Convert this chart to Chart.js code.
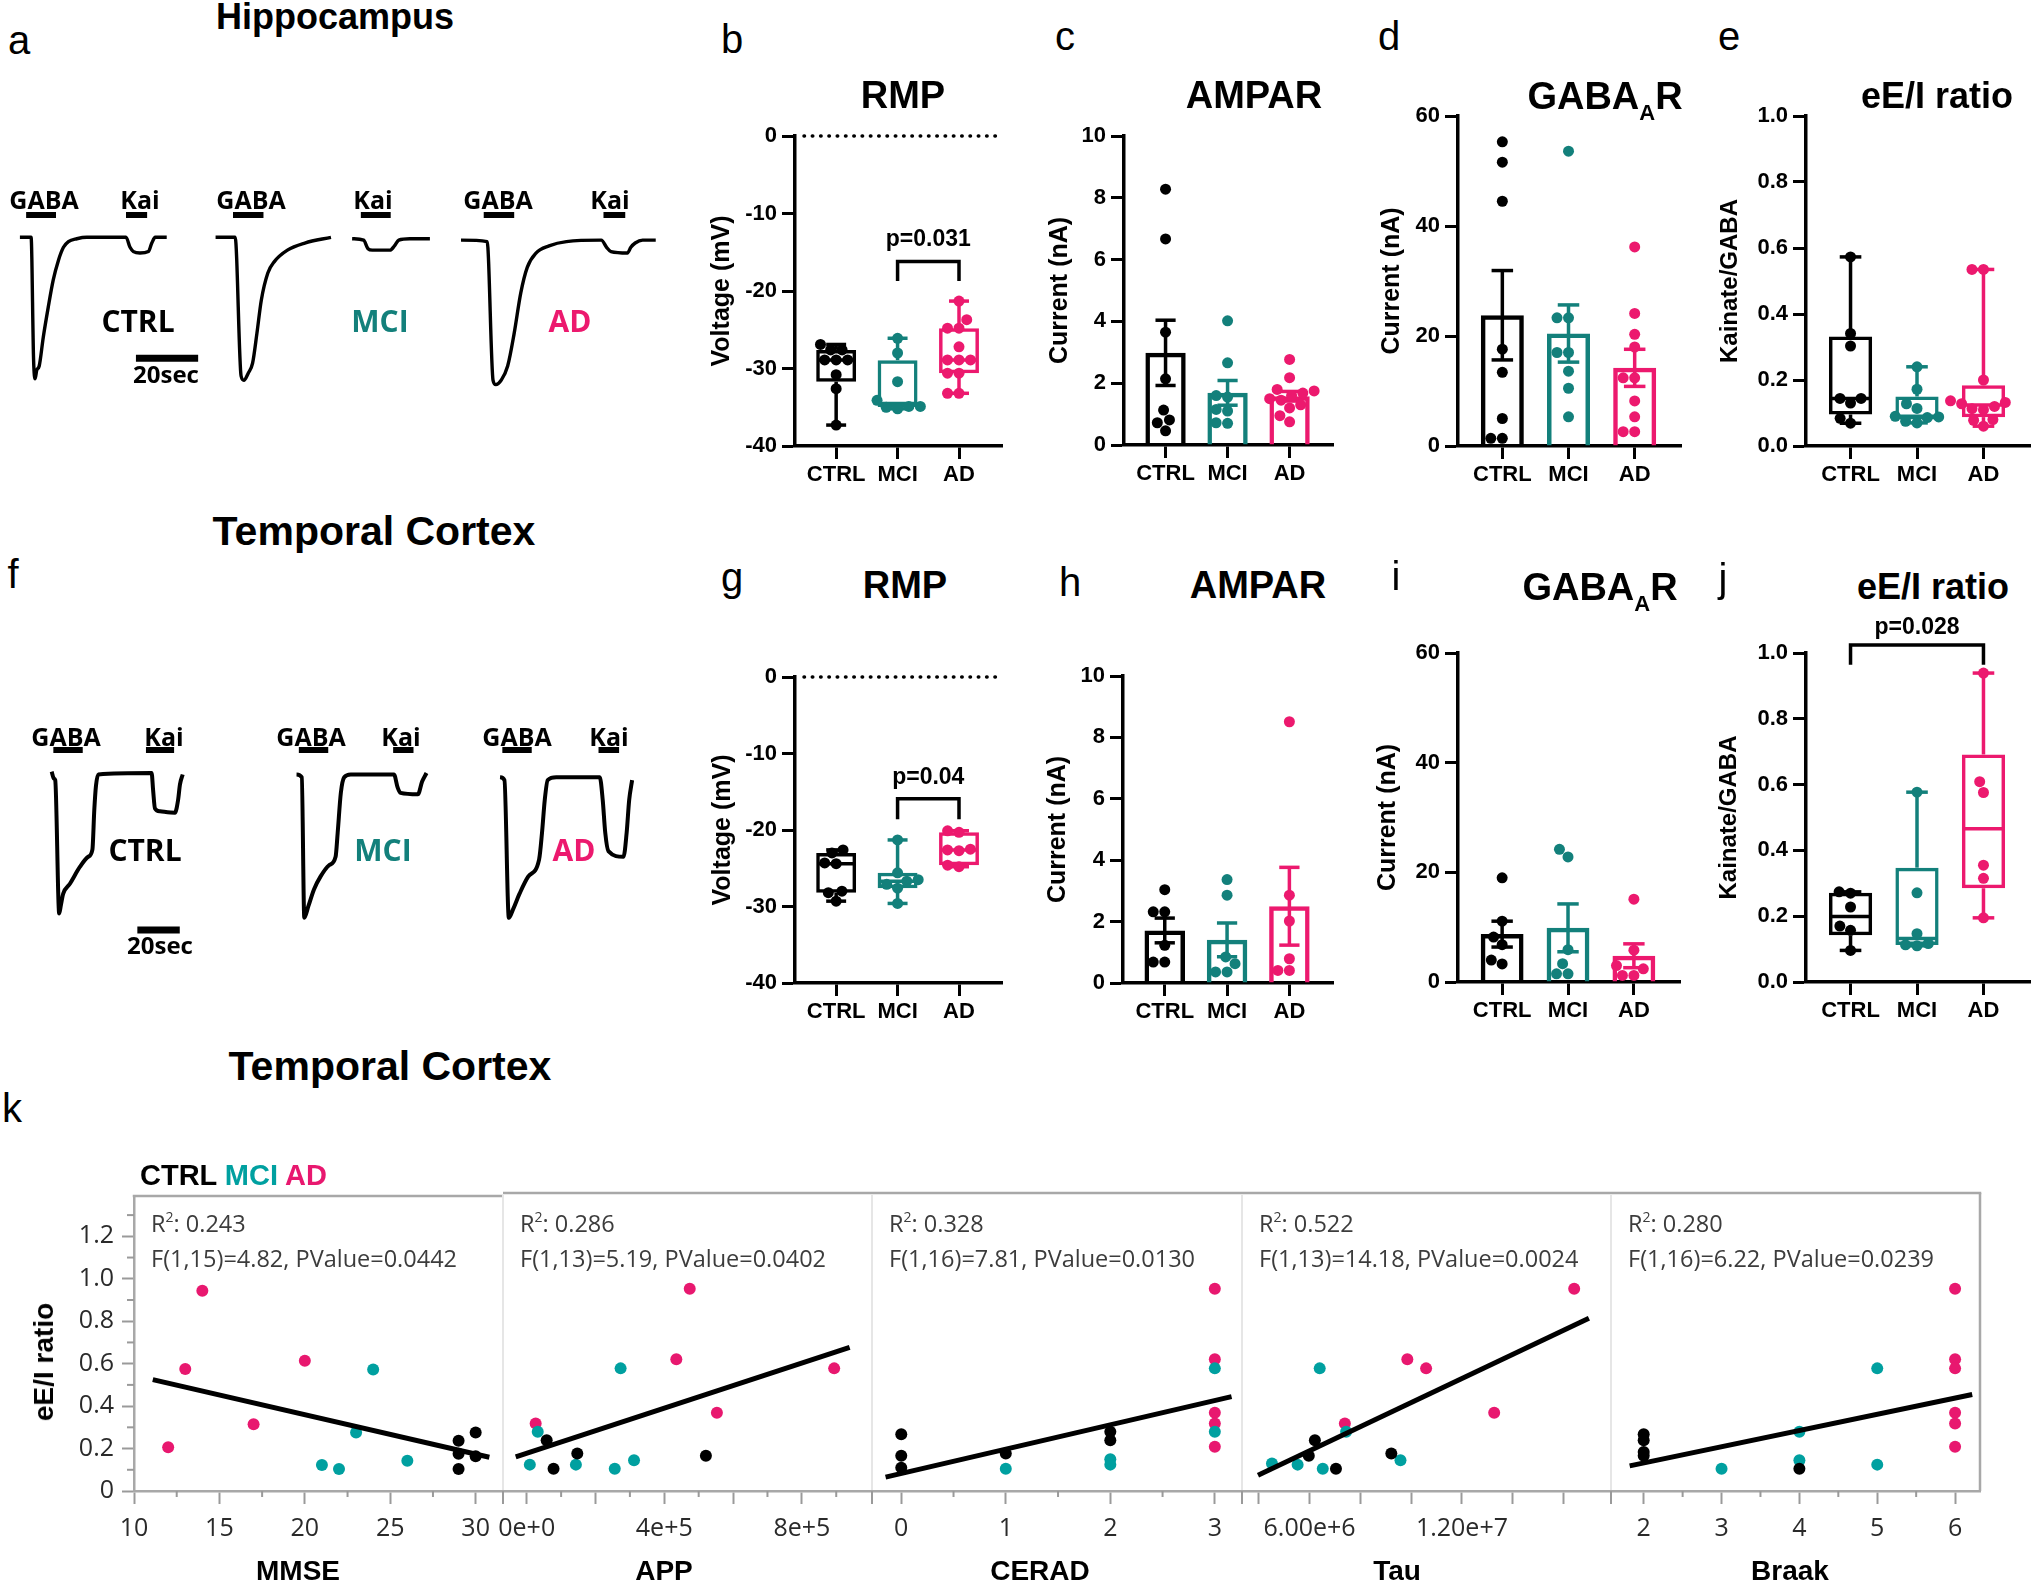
<!DOCTYPE html>
<html>
<head>
<meta charset="utf-8">
<title>Hippocampus and temporal cortex eE/I</title>
<script src="https://cdn.jsdelivr.net/npm/chart.js@4.4.1/dist/chart.umd.min.js"></script>
<style>
html, body { margin: 0; padding: 0; background: #fff; }
#page { position: relative; width: 2031px; height: 1587px; overflow: hidden; font-family: "Liberation Sans", Arial, sans-serif; color: #000; }
#page canvas { position: absolute; }
.t { position: absolute; transform: translate(-50%, -50%); white-space: nowrap; line-height: 1; }
.letter { font-size: 40px; }
.big { font-size: 38px; font-weight: bold; }
.tr { font-family: "Open Sans", sans-serif; font-weight: bold; font-size: 25px; }
.grp { font-family: "Open Sans", sans-serif; font-weight: bold; font-size: 30px; }
.stat { font-family: "Open Sans", sans-serif; font-size: 23.5px; color: #3c3c3c; transform: translate(0, -50%); }
.stat sup { font-size: 14px; position: relative; top: -2px; vertical-align: top; }
.sub { font-size: 22px; position: relative; top: 11px; }
</style>
</head>
<body>
<div id="page"></div>
<script>
// ---------- data ----------
const groups = ['CTRL', 'MCI', 'AD'];

// b: hippocampus RMP (mV)
const rmpHipCtrl = [-26.9, -27.6, -27.6, -28.9, -28.9, -28.9, -30.8, -32.6, -37.3];
const rmpHipMci = [-26.1, -28.0, -31.7, -34.1, -34.9, -34.9, -35.0, -35.2];
const rmpHipAd = [-21.3, -23.7, -24.8, -24.8, -27.2, -28.9, -28.9, -28.9, -30.6, -30.6, -33.2, -33.2];
// c: hippocampus AMPAR current (nA)
const ampaHipCtrl = [8.28, 6.67, 3.65, 2.14, 1.13, 0.81, 0.72, 0.46];
const ampaHipMci = [4.02, 2.66, 1.6, 1.55, 1.15, 1.1, 0.72, 0.7];
const ampaHipAd = [2.77, 2.18, 1.8, 1.75, 1.68, 1.6, 1.5, 1.45, 1.3, 1.2, 0.95, 0.75];
// d: hippocampus GABAAR current (nA)
const gabaHipCtrl = [55.3, 51.6, 44.5, 17.6, 13.4, 5.0, 1.4, 1.4];
const gabaHipMci = [53.6, 23.3, 23.3, 17.0, 17.0, 13.6, 10.5, 5.3];
const gabaHipAd = [36.2, 24.1, 20.3, 18.0, 12.4, 12.4, 8.2, 5.3, 2.6, 2.6];
// e: hippocampus kainate/GABA
const eiHipCtrl = [0.573, 0.341, 0.303, 0.144, 0.144, 0.13, 0.084, 0.069];
const eiHipMci = [0.24, 0.172, 0.128, 0.114, 0.09, 0.088, 0.086, 0.075, 0.07];
const eiHipAd = [0.535, 0.535, 0.2, 0.137, 0.132, 0.128, 0.12, 0.113, 0.11, 0.08, 0.078, 0.06];
// g: temporal cortex RMP (mV)
const rmpTcCtrl = [-22.6, -23.0, -24.3, -24.4, -28.0, -28.2, -29.3];
const rmpTcMci = [-21.3, -25.6, -26.5, -26.7, -27.1, -27.6, -29.6];
const rmpTcAd = [-20.1, -20.3, -22.5, -22.6, -22.7, -24.6, -24.8];
// h: temporal cortex AMPAR (nA)
const ampaTcCtrl = [3.04, 2.32, 2.32, 1.23, 0.68, 0.68];
const ampaTcMci = [3.37, 2.86, 0.85, 0.63, 0.36, 0.36];
const ampaTcAd = [8.51, 2.86, 2.02, 0.79, 0.41, 0.41];
// i: temporal cortex GABAAR (nA)
const gabaTcCtrl = [19.0, 11.1, 8.2, 6.8, 4.0, 3.3];
const gabaTcMci = [24.2, 22.8, 5.9, 3.35, 1.5, 1.5];
const gabaTcAd = [15.1, 5.8, 3.0, 2.4, 1.2, 1.2];
// j: temporal cortex kainate/GABA
const eiTcCtrl = [0.274, 0.27, 0.228, 0.17, 0.157, 0.096];
const eiTcMci = [0.577, 0.271, 0.147, 0.117, 0.113, 0.11];
const eiTcAd = [0.939, 0.609, 0.576, 0.355, 0.315, 0.195];

// a / f: example traces, [time (s), normalised current]
const traceACtrl = [[6.4,0],[10.0,0],[10.8,-0.86],[11.3,-0.99],[11.8,-0.93],[12.6,-0.9],[13.9,-0.7],[15.5,-0.49],[17.1,-0.3],[18.8,-0.16],[20.4,-0.07],[22.0,-0.03],[24.7,-0.01],[27.9,0],[40.5,0],[41.8,-0.07],[42.9,-0.1],[45.0,-0.11],[47.7,-0.1],[48.8,-0.04],[49.9,0],[53.6,0]];
const traceAMciGaba = [[69.3,0],[75.6,0],[77.5,-0.97],[78.4,-1.0],[79.8,-0.95],[81.2,-0.88],[82.6,-0.67],[84.0,-0.44],[86.1,-0.25],[88.2,-0.17],[92.4,-0.09],[98.0,-0.04],[106.4,0]];
const traceAMciKai = [[113.2,-0.01],[116.9,-0.02],[118.3,-0.08],[119.7,-0.09],[125.4,-0.09],[126.8,-0.06],[128.2,-0.02],[131.7,-0.01],[138.2,-0.01]];
const traceAAd = [[148.2,-0.02],[156.6,-0.03],[158.5,-1.0],[159.4,-1.03],[161.1,-1.0],[163.2,-0.9],[165.3,-0.67],[167.4,-0.39],[169.5,-0.21],[172.3,-0.11],[176.5,-0.06],[182.1,-0.03],[193.3,-0.02],[195.0,-0.07],[196.4,-0.1],[201.7,-0.11],[202.8,-0.07],[204.2,-0.04],[206.6,-0.02],[210.8,-0.02]];
const stimAGaba = [[8.4, 18.0], [74.9, 84.7], [155.5, 165.3]];
const stimAKai = [[40.5, 47.3], [116.0, 125.6], [194.0, 201.0]];
const scaleA = [43.7, 63.7];

const traceFCtrl = [[24.6,0.01],[25.7,-0.04],[26.3,-0.05],[28.2,-0.99],[29.0,-0.93],[30.1,-0.85],[33.3,-0.78],[38.1,-0.66],[42.0,-0.59],[44.0,-0.54],[44.9,-0.26],[45.7,-0.09],[46.8,-0.01],[72.2,0],[72.9,-0.12],[73.8,-0.25],[76.2,-0.27],[83.3,-0.28],[84.8,-0.19],[85.7,-0.08],[87.0,-0.01]];
const traceFMci = [[141.2,-0.01],[143.7,-0.03],[144.9,-1.02],[146.8,-0.94],[149.5,-0.82],[152.6,-0.73],[156.7,-0.65],[159.8,-0.59],[160.8,-0.42],[162.3,-0.14],[163.9,-0.03],[167.0,-0.01],[187.6,-0.01],[189.3,-0.1],[190.7,-0.14],[199.0,-0.15],[201.0,-0.06],[203.1,0]];
const traceFAd = [[238.1,-0.03],[240.2,-0.05],[242.3,-1.02],[244.3,-0.96],[247.4,-0.85],[251.5,-0.73],[256.7,-0.61],[258.1,-0.42],[259.4,-0.19],[260.8,-0.05],[264.9,-0.03],[285.6,-0.03],[287.0,-0.19],[288.2,-0.42],[289.7,-0.55],[296.9,-0.59],[298.4,-0.42],[299.6,-0.19],[301.0,-0.05]];
const stimFGaba = [[25.4, 39.4], [142.3, 156.3], [239.2, 253.2]];
const stimFKai = [[69.5, 82.9], [187.2, 196.9], [285.0, 294.8]];
const scaleF = [65.4, 85.6];

// k: eE/I ratio vs pathology, [x, eE/I]
const mmseCtrl = [[29,0.237],[29,0.175],[29,0.104],[30,0.276],[30,0.164]];
const mmseMci = [[21,0.123],[22,0.104],[23,0.276],[24,0.572],[26,0.143]];
const mmseAd = [[12,0.206],[13,0.575],[14,0.943],[17,0.315],[20,0.614]];
const mmseFit = [[11.1,0.525],[30.8,0.159]];
const appCtrl = [[0.58e5,0.237],[0.78e5,0.104],[1.47e5,0.175],[5.21e5,0.164]];
const appMci = [[0.09e5,0.123],[0.32e5,0.276],[1.43e5,0.123],[2.56e5,0.104],[2.73e5,0.572],[3.12e5,0.143]];
const appAd = [[0.26e5,0.315],[4.35e5,0.614],[4.74e5,0.943],[5.53e5,0.365],[8.94e5,0.572]];
const appFit = [[-0.32e5,0.159],[9.39e5,0.67]];
const ceradCtrl = [[0,0.265],[0,0.164],[0,0.109],[1,0.175],[2,0.276],[2,0.237]];
const ceradMci = [[1,0.104],[2,0.148],[2,0.123],[3,0.572],[3,0.276]];
const ceradAd = [[3,0.943],[3,0.614],[3,0.365],[3,0.315],[3,0.206]];
const ceradFit = [[-0.15,0.065],[3.16,0.44]];
const tauCtrl = [[5.97e6,0.164],[6.21e6,0.237],[7.04e6,0.104],[9.22e6,0.175]];
const tauMci = [[4.52e6,0.128],[5.53e6,0.123],[6.4e6,0.572],[6.52e6,0.104],[7.44e6,0.276],[9.58e6,0.143]];
const tauAd = [[7.39e6,0.315],[9.85e6,0.614],[10.59e6,0.572],[13.27e6,0.365],[16.42e6,0.943]];
const tauFit = [[3.97e6,0.073],[17.0e6,0.806]];
const braakCtrl = [[2,0.265],[2,0.237],[2,0.182],[2,0.164],[4,0.104]];
const braakMci = [[3,0.104],[4,0.276],[4,0.143],[5,0.572],[5,0.123]];
const braakAd = [[6,0.943],[6,0.614],[6,0.572],[6,0.365],[6,0.315],[6,0.206]];
const braakFit = [[1.82,0.117],[6.22,0.45]];

const kTitles = ['MMSE', 'APP', 'CERAD', 'Tau', 'Braak'];
const kR2 = ['0.243', '0.286', '0.328', '0.522', '0.280'];
const kF = ['F(1,15)=4.82, PValue=0.0442', 'F(1,13)=5.19, PValue=0.0402', 'F(1,16)=7.81, PValue=0.0130', 'F(1,13)=14.18, PValue=0.0024', 'F(1,16)=6.22, PValue=0.0239'];
const kYTicks = [0, 0.2, 0.4, 0.6, 0.8, 1.0, 1.2];
const kYLabels = ['0', '0.2', '0.4', '0.6', '0.8', '1.0', '1.2'];
const kYMinor = [0.1, 0.3, 0.5, 0.7, 0.9, 1.1, 1.3];
const mmseTicks = [10, 15, 20, 25, 30], mmseTickLabels = ['10', '15', '20', '25', '30'], mmseMinor = [12.5, 17.5, 22.5, 27.5];
const appTicks = [0, 2e5, 4e5, 6e5, 8e5], appTickLabels = ['0e+0', '', '4e+5', '', '8e+5'], appMinor = [1e5, 3e5, 5e5, 7e5, 9e5];
const ceradTicks = [0, 1, 2, 3], ceradTickLabels = ['0', '1', '2', '3'], ceradMinor = [0.5, 1.5, 2.5];
const tauTicks = [4e6, 6e6, 8e6, 10e6, 12e6, 14e6, 16e6], tauTickLabels = ['', '6.00e+6', '', '', '1.20e+7', '', ''], tauMinor = [];
const braakTicks = [2, 3, 4, 5, 6], braakTickLabels = ['2', '3', '4', '5', '6'], braakMinor = [2.5, 3.5, 4.5, 5.5];

// ---------- setup ----------
const FONT = '"Liberation Sans", Arial, sans-serif';
const SANS2 = '"Open Sans", "Noto Sans", sans-serif';
Chart.defaults.font.family = FONT;
Chart.defaults.color = '#000';

const gpColors = ['#000000', '#13807b', '#ec196e'];
const K_CTRL = '#000000', K_MCI = '#00a0a0', K_AD = '#e8186f';
const K_FRAME = '#a8a8a8', K_TICK = '#9a9a9a', K_TEXT = '#2a2a2a';
const X_MIN = -0.67, X_MAX = 2.7;

const page = document.getElementById('page');

function makeCanvas(left, top, w, h) {
  const c = document.createElement('canvas');
  c.width = w; c.height = h;
  c.style.left = left + 'px'; c.style.top = top + 'px';
  c.style.width = w + 'px'; c.style.height = h + 'px';
  page.appendChild(c);
  return c;
}

function txt(html, x, y, cls, style) {
  const d = document.createElement('div');
  d.className = 't ' + (cls || '');
  d.innerHTML = html;
  d.style.left = x + 'px';
  d.style.top = y + 'px';
  Object.assign(d.style, style || {});
  page.appendChild(d);
  return d;
}

function mean(a) { return a.reduce((s, v) => s + v, 0) / a.length; }
function sem(a) {
  const m = mean(a);
  const sd = Math.sqrt(a.reduce((s, v) => s + (v - m) * (v - m), 0) / (a.length - 1));
  return sd / Math.sqrt(a.length);
}
function quantile(sorted, p) {
  const n = sorted.length;
  let pos = (n + 1) * p;
  pos = Math.min(Math.max(pos, 1), n);
  const lo = Math.floor(pos), frac = pos - lo;
  if (lo >= n) return sorted[n - 1];
  return sorted[lo - 1] + frac * (sorted[lo] - sorted[lo - 1]);
}
function boxStats(vals) {
  const s = vals.slice().sort((a, b) => a - b);
  return {min: s[0], q1: quantile(s, 0.25), med: quantile(s, 0.5), q3: quantile(s, 0.75), max: s[s.length - 1]};
}

// beeswarm: horizontal offsets (in category units) so dots don't overlap
function swarm(values, pxPerY, diam, pxPerX) {
  const order = values.map((v, i) => i).sort((a, b) => values[a] - values[b]);
  const placed = [];
  const off = new Array(values.length).fill(0);
  order.forEach(i => {
    const py = values[i] * pxPerY;
    const blocks = [];
    placed.forEach(p => {
      const dy = Math.abs(p.y - py);
      if (dy < diam) {
        const dx = Math.sqrt(diam * diam - dy * dy);
        blocks.push([p.x - dx, p.x + dx]);
      }
    });
    const cands = [0];
    blocks.forEach(b => cands.push(b[0], b[1]));
    cands.sort((a, b) => (Math.abs(a) - Math.abs(b)) || (a - b));
    const x = cands.find(c => blocks.every(b => c <= b[0] + 1e-6 || c >= b[1] - 1e-6));
    placed.push({x: x, y: py});
    off[i] = x / pxPerX;
  });
  return off;
}

// ---------- GraphPad style panels ----------
function gpPlugin(p) {
  return {
    id: 'gpMarks',
    beforeDatasetsDraw(chart) {
      const ctx = chart.ctx, a = chart.chartArea, x = chart.scales.x, y = chart.scales.y;
      const seg = (x0, y0, x1, y1) => { ctx.beginPath(); ctx.moveTo(x0, y0); ctx.lineTo(x1, y1); ctx.stroke(); };
      const Y = v => y.getPixelForValue(v);
      ctx.save();
      if (p.zero) {
        ctx.strokeStyle = '#000'; ctx.lineWidth = 3.5; ctx.lineCap = 'round';
        ctx.setLineDash([0.5, 7.8]);
        seg(a.left + 9, Y(0), a.right, Y(0));
        ctx.setLineDash([]);
      }
      ctx.lineCap = 'butt';
      const half = (x.getPixelForValue(0.65) - x.getPixelForValue(0)) / 2;
      const cap = half * 0.5;
      p.groups.forEach((vals, g) => {
        const cx = x.getPixelForValue(g);
        ctx.strokeStyle = gpColors[g];
        ctx.lineWidth = 3.5;
        if (p.kind === 'box') {
          const s = boxStats(vals);
          seg(cx, Y(s.q3), cx, Y(s.max)); seg(cx - cap, Y(s.max), cx + cap, Y(s.max));
          seg(cx, Y(s.q1), cx, Y(s.min)); seg(cx - cap, Y(s.min), cx + cap, Y(s.min));
          seg(cx - half + 2, Y(s.med), cx + half - 2, Y(s.med));
        } else {
          const m = mean(vals), e = sem(vals);
          seg(cx, Y(m - e), cx, Y(m + e));
          seg(cx - cap, Y(m + e), cx + cap, Y(m + e));
          seg(cx - cap, Y(m - e), cx + cap, Y(m - e));
        }
      });
      ctx.restore();
    },
    afterDatasetsDraw(chart) {
      if (!p.sig) return;
      const ctx = chart.ctx, x = chart.scales.x, y = chart.scales.y, s = p.sig;
      const x0 = x.getPixelForValue(s.from), x1 = x.getPixelForValue(s.to);
      const yt = y.getPixelForValue(s.top), yl = y.getPixelForValue(s.leg);
      ctx.save();
      ctx.strokeStyle = '#000'; ctx.lineWidth = 3.5;
      ctx.beginPath(); ctx.moveTo(x0, yl); ctx.lineTo(x0, yt); ctx.lineTo(x1, yt); ctx.lineTo(x1, yl); ctx.stroke();
      ctx.fillStyle = '#000'; ctx.font = 'bold 23px ' + FONT;
      ctx.textAlign = 'center'; ctx.textBaseline = 'middle';
      ctx.fillText(s.text, (x0 + x1) / 2, y.getPixelForValue(s.textY));
      ctx.restore();
    }
  };
}

function gpPanel(p) {
  const yW = 110, padTop = 45, padRight = 12, xH = 62;
  const cv = makeCanvas(p.left - yW, p.top - padTop, p.right - p.left + yW + padRight, p.bottom - p.top + padTop + xH);
  const pxY = (p.bottom - p.top) / (p.yMax - p.yMin);
  const pxX = (p.right - p.left) / (X_MAX - X_MIN);
  const pts = [], cols = [];
  p.groups.forEach((vals, g) => {
    const off = swarm(vals, pxY, 11.5, pxX);
    vals.forEach((v, k) => { pts.push({x: g + off[k], y: v}); cols.push(gpColors[g]); });
  });
  const isBox = p.kind === 'box';
  const barData = p.groups.map((vals, g) => {
    if (isBox) { const s = boxStats(vals); return {x: g, y: [s.q1, s.q3]}; }
    return {x: g, y: mean(vals)};
  });
  const tSize = p.titleSize || 25;
  new Chart(cv, {
    type: 'bar',
    data: {datasets: [
      {type: 'scatter', data: pts, pointBackgroundColor: cols, pointBorderWidth: 0, pointRadius: 5.5, order: 0, clip: false},
      {type: 'bar', data: barData, backgroundColor: 'rgba(0,0,0,0)', borderColor: gpColors,
       borderWidth: isBox ? 3.5 : 4.5, borderSkipped: isBox ? false : 'start',
       barPercentage: 0.65, categoryPercentage: 1, order: 1}
    ]},
    options: {
      responsive: false, animation: false, events: [],
      layout: {padding: {top: padTop, right: padRight, left: 0, bottom: 0}},
      plugins: {legend: {display: false}, tooltip: {enabled: false}},
      scales: {
        x: {type: 'linear', min: X_MIN, max: X_MAX, offset: false,
            afterBuildTicks: s => { s.ticks = groups.map((_, i) => ({value: i})); },
            afterFit: s => { s.height = xH; },
            ticks: {autoSkip: false, maxRotation: 0, padding: 3, color: '#000', font: {size: 22, weight: 'bold'}, callback: v => groups[v]},
            grid: {drawOnChartArea: false, offset: false, tickLength: 13, tickWidth: 3, tickColor: '#000'},
            border: {color: '#000', width: 3.5}},
        y: {min: p.yMin, max: p.yMax,
            afterFit: s => { s.width = yW; },
            ticks: {stepSize: p.yStep, padding: 5, color: '#000', font: {size: 22, weight: 'bold'}, callback: v => v.toFixed(p.dec)},
            grid: {drawOnChartArea: false, tickLength: 13, tickWidth: 3, tickColor: '#000'},
            border: {color: '#000', width: 3.5},
            title: {display: true, text: p.yTitle, color: '#000', font: {size: tSize, weight: 'bold'},
                    padding: {top: yW - p.titleGap - tSize * 0.6, bottom: 0}}}
      }
    },
    plugins: [gpPlugin(p)]
  });
}

gpPanel({left: 795, right: 1002, top: 136, bottom: 446, yMin: -40, yMax: 0, yStep: 10, dec: 0,
  yTitle: 'Voltage (mV)', titleGap: 73, kind: 'box', zero: true, groups: [rmpHipCtrl, rmpHipMci, rmpHipAd],
  sig: {from: 1, to: 2, top: -16.2, leg: -18.7, text: 'p=0.031', textY: -13.4}});
gpPanel({left: 1124, right: 1333, top: 136, bottom: 445, yMin: 0, yMax: 10, yStep: 2, dec: 0,
  yTitle: 'Current (nA)', titleGap: 64, kind: 'bar', groups: [ampaHipCtrl, ampaHipMci, ampaHipAd]});
gpPanel({left: 1458, right: 1681, top: 116, bottom: 446, yMin: 0, yMax: 60, yStep: 20, dec: 0,
  yTitle: 'Current (nA)', titleGap: 66, kind: 'bar', groups: [gabaHipCtrl, gabaHipMci, gabaHipAd]});
gpPanel({left: 1806, right: 2030, top: 116, bottom: 446, yMin: 0, yMax: 1, yStep: 0.2, dec: 1,
  yTitle: 'Kainate/GABA', titleGap: 76, titleSize: 24, kind: 'box', groups: [eiHipCtrl, eiHipMci, eiHipAd]});
gpPanel({left: 795, right: 1002, top: 677, bottom: 983, yMin: -40, yMax: 0, yStep: 10, dec: 0,
  yTitle: 'Voltage (mV)', titleGap: 72, kind: 'box', zero: true, groups: [rmpTcCtrl, rmpTcMci, rmpTcAd],
  sig: {from: 1, to: 2, top: -15.9, leg: -18.6, text: 'p=0.04', textY: -13.2}});
gpPanel({left: 1123, right: 1333, top: 676, bottom: 983, yMin: 0, yMax: 10, yStep: 2, dec: 0,
  yTitle: 'Current (nA)', titleGap: 65, kind: 'bar', groups: [ampaTcCtrl, ampaTcMci, ampaTcAd]});
gpPanel({left: 1458, right: 1680, top: 653, bottom: 982, yMin: 0, yMax: 60, yStep: 20, dec: 0,
  yTitle: 'Current (nA)', titleGap: 70, kind: 'bar', groups: [gabaTcCtrl, gabaTcMci, gabaTcAd]});
gpPanel({left: 1806, right: 2030, top: 653, bottom: 982, yMin: 0, yMax: 1, yStep: 0.2, dec: 1,
  yTitle: 'Kainate/GABA', titleGap: 77, titleSize: 24, kind: 'box', groups: [eiTcCtrl, eiTcMci, eiTcAd],
  sig: {from: 0, to: 2, top: 1.024, leg: 0.964, text: 'p=0.028', textY: 1.076}});

// ---------- traces ----------
function traceChart(top, height, xMax, vTop, vBottom, traces, stims, stimV, scaleBar, scaleV, width) {
  const cv = makeCanvas(0, top, 680, height);
  const ds = [];
  traces.forEach(tr => ds.push({data: tr, borderColor: '#000', borderWidth: width, pointRadius: 0,
    cubicInterpolationMode: 'monotone', clip: false}));
  stims.forEach(s => ds.push({data: [[s[0], stimV], [s[1], stimV]], borderColor: '#000', borderWidth: 6, pointRadius: 0, clip: false}));
  ds.push({data: [[scaleBar[0], scaleV], [scaleBar[1], scaleV]], borderColor: '#000', borderWidth: 7, pointRadius: 0, clip: false});
  new Chart(cv, {
    type: 'line',
    data: {datasets: ds},
    options: {
      responsive: false, animation: false, events: [],
      layout: {padding: 0},
      plugins: {legend: {display: false}, tooltip: {enabled: false}},
      scales: {
        x: {type: 'linear', display: false, min: 0, max: xMax},
        y: {display: false, min: vBottom, max: vTop}
      }
    }
  });
}

traceChart(150, 270, 218.6, 0.6105, -1.2776, [traceACtrl, traceAMciGaba, traceAMciKai, traceAAd],
  stimAGaba.concat(stimAKai), 0.156, scaleA, -0.846, 3.4);
traceChart(700, 260, 323.8, 0.514, -1.317, [traceFCtrl, traceFMci, traceFAd],
  stimFGaba.concat(stimFKai), 0.162, scaleF, -1.106, 4);

// trace labels
[[44, 140], [251, 373], [498, 610]].forEach(p => { txt('GABA', p[0], 199, 'tr'); txt('Kai', p[1], 199, 'tr'); });
txt('CTRL', 138, 321, 'grp', {color: gpColors[0]});
txt('MCI', 380, 321, 'grp', {color: gpColors[1]});
txt('AD', 570, 321, 'grp', {color: gpColors[2]});
txt('20sec', 166, 374, 'tr', {fontSize: '24px'});
[[66, 164], [311, 401], [517, 609]].forEach(p => { txt('GABA', p[0], 736, 'tr'); txt('Kai', p[1], 736, 'tr'); });
txt('CTRL', 145, 850, 'grp', {color: gpColors[0]});
txt('MCI', 383, 850, 'grp', {color: gpColors[1]});
txt('AD', 574, 850, 'grp', {color: gpColors[2]});
txt('20sec', 160, 945, 'tr', {fontSize: '24px'});

// ---------- k: regression facets ----------
const kEdges = [134, 503, 872, 1242, 1611, 1980];
const K_TOP = 1193, K_BOTTOM = 1491, K_YMAX = 1.39;

function kPlugin(i, minors, first, last) {
  return {
    id: 'kFrame',
    afterDraw(chart) {
      const ctx = chart.ctx, a = chart.chartArea, x = chart.scales.x, y = chart.scales.y;
      const seg = (x0, y0, x1, y1) => { ctx.beginPath(); ctx.moveTo(x0, y0); ctx.lineTo(x1, y1); ctx.stroke(); };
      ctx.save();
      ctx.strokeStyle = K_FRAME; ctx.lineWidth = 2.5;
      seg(a.left - (first ? 1.25 : 0), a.top, a.right + (last ? 1.25 : 0), a.top);
      if (last) seg(a.right, a.top, a.right, a.bottom);
      if (!first) {
        ctx.strokeStyle = '#e6e6e6'; ctx.lineWidth = 2;
        seg(a.left, a.top + 2, a.left, a.bottom - 1);
        ctx.strokeStyle = K_TICK;
        seg(a.left, a.bottom, a.left, a.bottom + 13);
      }
      ctx.strokeStyle = K_TICK; ctx.lineWidth = 2;
      minors.forEach(v => { const px = x.getPixelForValue(v); seg(px, a.bottom, px, a.bottom + 6); });
      if (first) kYMinor.forEach(v => { const py = y.getPixelForValue(v); seg(a.left - 7, py, a.left, py); });
      ctx.restore();
    }
  };
}

function kFacet(i, f) {
  const left = kEdges[i], right = kEdges[i + 1];
  const first = i === 0, last = i === kEdges.length - 2;
  const side = 50, padTop = 20, xH = 96;
  const cvLeft = first ? 0 : left - side;
  const cv = makeCanvas(cvLeft, K_TOP - padTop, right - cvLeft + side, K_BOTTOM - K_TOP + padTop + xH);
  const dot = (data, color) => ({type: 'scatter', data: data, pointBackgroundColor: color, pointBorderWidth: 0, pointRadius: 6, order: 1, clip: false});
  new Chart(cv, {
    type: 'scatter',
    data: {datasets: [
      {type: 'line', data: f.fit, borderColor: '#000', borderWidth: 5, pointRadius: 0, order: 0, clip: false},
      dot(f.ctrl, K_CTRL), dot(f.mci, K_MCI), dot(f.ad, K_AD)
    ]},
    options: {
      responsive: false, animation: false, events: [],
      layout: {padding: {top: padTop, bottom: 0, left: first ? 0 : side, right: side}},
      plugins: {legend: {display: false}, tooltip: {enabled: false}},
      scales: {
        x: {type: 'linear', min: f.min, max: f.max,
            afterBuildTicks: s => { s.ticks = f.ticks.map(v => ({value: v})); },
            afterFit: s => { s.height = xH; },
            ticks: {autoSkip: false, maxRotation: 0, padding: 10, color: K_TEXT, font: {family: SANS2, size: 25},
                    callback: (v, idx) => f.labels[idx]},
            grid: {drawOnChartArea: false, tickLength: 13, tickWidth: 2, tickColor: K_TICK},
            border: {color: K_FRAME, width: 2.5}},
        y: {display: first, min: 0, max: K_YMAX,
            afterBuildTicks: s => { s.ticks = kYTicks.map(v => ({value: v})); },
            afterFit: s => { s.width = first ? left : 0; },
            ticks: {autoSkip: false, padding: 8, color: K_TEXT, font: {family: SANS2, size: 25},
                    callback: (v, idx) => kYLabels[idx]},
            grid: {drawOnChartArea: false, tickLength: 12, tickWidth: 2, tickColor: K_TICK},
            border: {color: K_FRAME, width: 2.5}}
      }
    },
    plugins: [kPlugin(i, f.minor, first, last)]
  });
}

kFacet(0, {min: 10, max: 31.6, ticks: mmseTicks, labels: mmseTickLabels, minor: mmseMinor, ctrl: mmseCtrl, mci: mmseMci, ad: mmseAd, fit: mmseFit});
kFacet(1, {min: -0.69e5, max: 10.04e5, ticks: appTicks, labels: appTickLabels, minor: appMinor, ctrl: appCtrl, mci: appMci, ad: appAd, fit: appFit});
kFacet(2, {min: -0.28, max: 3.26, ticks: ceradTicks, labels: ceradTickLabels, minor: ceradMinor, ctrl: ceradCtrl, mci: ceradMci, ad: ceradAd, fit: ceradFit});
kFacet(3, {min: 3.34e6, max: 17.87e6, ticks: tauTicks, labels: tauTickLabels, minor: tauMinor, ctrl: tauCtrl, mci: tauMci, ad: tauAd, fit: tauFit});
kFacet(4, {min: 1.58, max: 6.32, ticks: braakTicks, labels: braakTickLabels, minor: braakMinor, ctrl: braakCtrl, mci: braakMci, ad: braakAd, fit: braakFit});

kR2.forEach((r, i) => {
  txt('R<sup>2</sup>: ' + r, kEdges[i] + 17, 1224, 'stat');
  txt(kF[i], kEdges[i] + 17, 1259, 'stat');
});
[298, 664, 1040, 1397, 1790].forEach((x, i) => txt(kTitles[i], x, 1571, '', {fontSize: '28px', fontWeight: 'bold'}));
txt('eE/I ratio', 44, 1362, '', {fontSize: '28px', fontWeight: 'bold', transform: 'translate(-50%, -50%) rotate(-90deg)'});
txt('<span style="color:' + K_CTRL + '">CTRL</span> <span style="color:' + K_MCI + '">MCI</span> <span style="color:' + K_AD + '">AD</span>',
  140, 1175, '', {fontSize: '29px', fontWeight: 'bold', transform: 'translate(0, -50%)'});

// ---------- headings and panel letters ----------
txt('Hippocampus', 335, 17, 'big', {fontSize: '36px'});
txt('Temporal Cortex', 374, 531, 'big', {fontSize: '41px'});
txt('Temporal Cortex', 390, 1066, 'big', {fontSize: '41px'});
const gabaR = 'GABA<span class="sub">A</span>R';
[['RMP', 903, 95], ['AMPAR', 1254, 95], [gabaR, 1605, 96], ['eE/I ratio', 1937, 96, 36],
 ['RMP', 905, 585], ['AMPAR', 1258, 585], [gabaR, 1600, 587], ['eE/I ratio', 1933, 587, 36]]
  .forEach(t => txt(t[0], t[1], t[2], 'big', t[3] ? {fontSize: t[3] + 'px'} : {}));
[['a', 19, 40], ['b', 732, 39], ['c', 1065, 36], ['d', 1389, 36], ['e', 1729, 36],
 ['f', 13, 574], ['g', 732, 577], ['h', 1070, 582], ['i', 1396, 576], ['j', 1723, 578], ['k', 12, 1108]]
  .forEach(t => txt(t[0], t[1], t[2], 'letter'));
</script>
</body>
</html>
